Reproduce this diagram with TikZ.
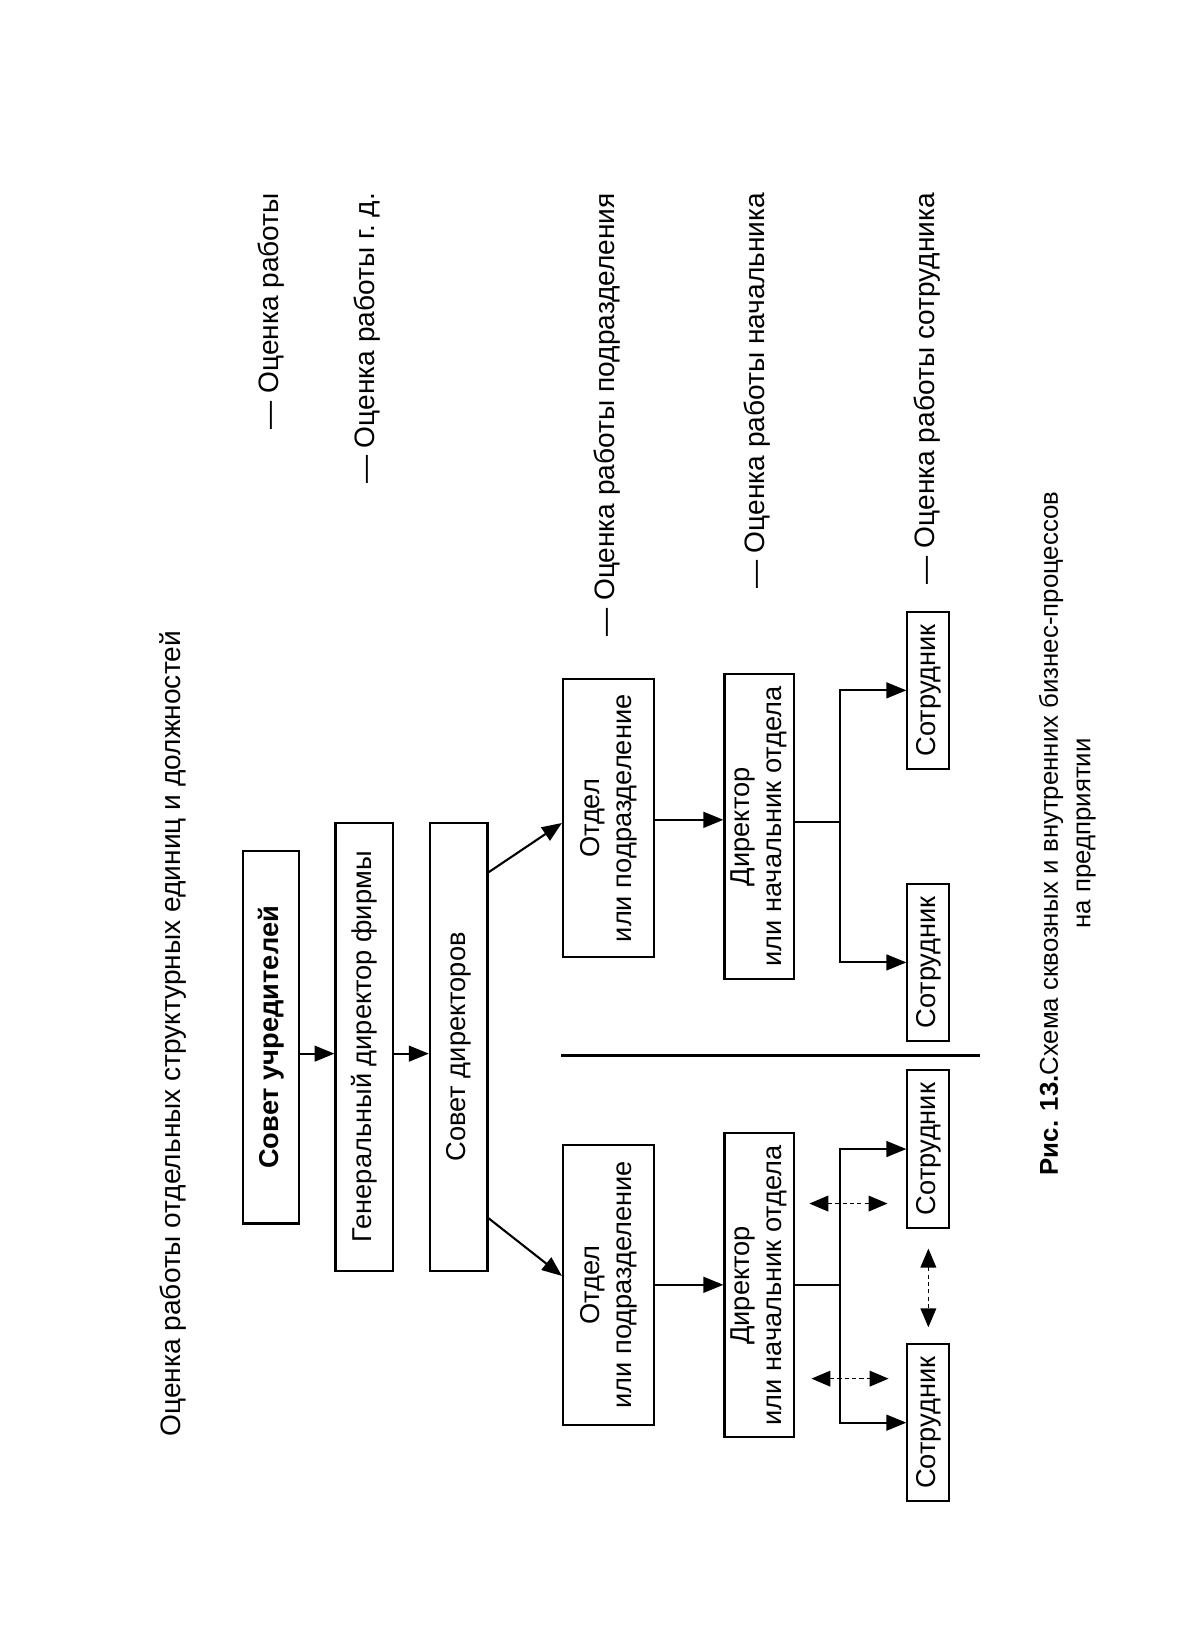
\documentclass[tikz,border=0pt]{standalone}
\usepackage{fontspec}
\setmainfont{Liberation Sans}
\usetikzlibrary{arrows.meta}
\begin{document}
\begin{tikzpicture}[x=1pt,y=1pt,
  box/.style={draw, line width=2pt, inner sep=0pt, align=center, font=\fontsize{26}{31}\selectfont},
  lbl/.style={anchor=east, inner sep=0pt, font=\fontsize{26.8}{30}\selectfont},
  ln/.style={line width=2pt},
  arr/.style={line width=2pt, -{Triangle[length=19pt,width=15pt]}},
  darr/.style={line width=1.2pt, dash pattern=on 4pt off 3pt, {Triangle[length=18pt,width=15pt]}-{Triangle[length=18pt,width=15pt]}}]
\begin{scope}[rotate=90, transform shape]
\useasboundingbox (0,-1136) rectangle (1570,0);
% title
\node[inner sep=0pt, font=\fontsize{26.8}{30}\selectfont] (title) at (986,-165) [anchor=center, xshift=-402pt] {Оценка работы отдельных структурных единиц и должностей};
% top chain
\node[box, font=\fontsize{26}{31}\selectfont\bfseries, minimum width=355, minimum height=53] (b1) at (580.5,-258.5) {Совет учредителей};
\node[box, minimum width=427, minimum height=55] (b2) at (571.5,-347.5) {Генеральный директор фирмы};
\node[box, minimum width=427, minimum height=55] (b3) at (571.5,-437.5) {Совет директоров};
% departments
\node[box, minimum width=265, minimum height=87] (oU) at (789.5,-580.5) {Отдел\\или подразделение};
\node[box, minimum width=267, minimum height=87] (oL) at (344.5,-580.5) {Отдел\\или подразделение};
\node[box, minimum width=291, minimum height=66] (dU) at (781.5,-724) {Директор\\или начальник отдела};
\node[box, minimum width=290, minimum height=66] (dL) at (344,-724) {Директор\\или начальник отдела};
% employees
\node[box, minimum width=150, minimum height=40] (sA) at (911.5,-885.5) {Сотрудник};
\node[box, minimum width=150, minimum height=40] (sB) at (652,-885.5) {Сотрудник};
\node[box, minimum width=150, minimum height=40] (sC) at (474,-885.5) {Сотрудник};
\node[box, minimum width=150, minimum height=40] (sD) at (213,-885.5) {Сотрудник};
% labels
\node[lbl] (l1) at (1386,-259) {—\ Оценка работы};
\node[lbl] (l2) at (1386,-350) {—\ Оценка работы г.~д.};
\node[lbl] (l3) at (1386,-579) {—\ Оценка работы подразделения};
\node[lbl] (l4) at (1386,-722) {—\ Оценка работы начальника};
\node[lbl] (l5) at (1386,-884) {—\ Оценка работы сотрудника};
% caption
\node[align=center, inner sep=0pt, font=\fontsize{24.6}{31}\selectfont] (cap) at (775,-1018) {\textbf{Рис. 13.}Схема сквозных и внутренних бизнес-процессов\\на предприятии};
% divider
\draw[line width=3pt] (563,-535) -- (563,-935);
% connectors
\coordinate (k1) at (565,0);
\coordinate (k2) at (738,0);
\coordinate (k3) at (785,0);
\coordinate (k4) at (408,0);
\coordinate (k5) at (353,0);
\coordinate (k6) at (788,0);
\coordinate (k7) at (422,0);
\coordinate (k8) at (255,0);
\draw[arr] (b1.south -| k1) -- (b2.north -| k1);
\draw[arr] (b2.south -| k1) -- (b3.north -| k1);
\draw[arr] (b3.south -| k2) -- (oU.north -| k3);
\draw[arr] (b3.south -| k4) -- (oL.north -| k5);
\draw[arr] (oU.south -| k6) -- (dU.north -| k6);
\draw[arr] (oL.south) -- (oL.south |- dL.north);
\coordinate (jU) at (786,-801);
\coordinate (jL) at (344,-801);
\draw[ln] (dU.south -| jU) -- (jU);
\draw[arr] (jU) -| (sA.north);
\draw[arr] (jU) -| (sB.north);
\draw[ln] (dL.south -| jL) -- (jL);
\draw[arr] (jL) -| (sC.north);
\draw[arr] (jL) -| (sD.north);
\draw[darr, shorten <=14pt, shorten >=18pt] (dL.south -| k7) -- (sC.north -| k7);
\draw[darr, shorten <=16pt, shorten >=17pt] (dL.south -| k8) -- (sD.north -| k8);
\draw[darr, shorten <=19pt, shorten >=15pt] (sC.west) -- (sD.east);
\end{scope}
\end{tikzpicture}
\end{document}
